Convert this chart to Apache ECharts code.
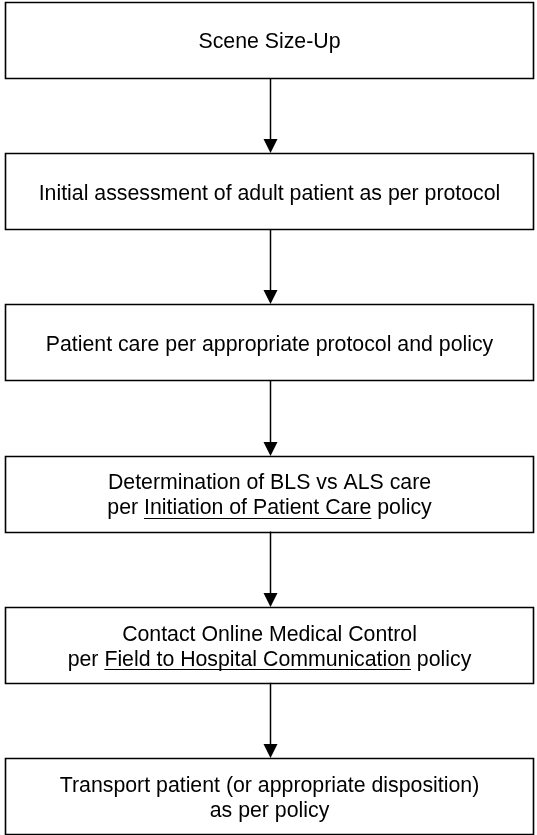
<!DOCTYPE html>
<html><head><meta charset="utf-8">
<script src="https://cdn.jsdelivr.net/npm/echarts@6/dist/echarts.min.js"></script>
<style>html,body{margin:0;padding:0;background:#fff}#chart{width:537px;height:835px}</style>
</head><body><div id="chart"></div>
<script>
// Flowchart steps (text in [brackets] is underlined in the original)
const steps = [
  'Scene Size-Up',
  'Initial assessment of adult patient as per protocol',
  'Patient care per appropriate protocol and policy',
  'Determination of BLS vs ALS care\nper [Initiation of Patient Care] policy',
  'Contact Online Medical Control\nper [Field to Hospital Communication] policy',
  'Transport patient (or appropriate disposition)\nas per policy'
];
const stepOrder = [0, 1, 2, 3, 4, 5];

const FONT_SIZE = 21.3;
const FONT_FAMILY = "'Liberation Sans', Arial, sans-serif";
const FONT = FONT_SIZE + 'px ' + FONT_FAMILY;
const LINE_H = 25;
const BOX_H = 76;
const TEXT_DY = 2.5;
const HEAD_W = 14, HEAD_H = 14;

const measureCtx = document.createElement('canvas').getContext('2d');
measureCtx.font = FONT;
function parseLine(line) {
  const segs = [];
  const re = /\[([^\]]*)\]|([^\[]+)/g;
  let m;
  while ((m = re.exec(line)) !== null) {
    if (m[1] !== undefined) segs.push({ t: m[1], u: true });
    else segs.push({ t: m[2], u: false });
  }
  return segs;
}

const chart = echarts.init(document.getElementById('chart'), null, { renderer: 'canvas' });

function renderItem(params, api) {
  const i = api.value(1);
  const left = api.coord([0, i]);
  const right = api.coord([1, i]);
  const cx = (left[0] + right[0]) / 2;
  const cy = left[1];
  const children = [];
  children.push({
    type: 'rect',
    shape: { x: left[0] + 0.5, y: Math.round(cy - BOX_H / 2) + 0.5, width: right[0] - left[0] - 1, height: BOX_H },
    style: { fill: '#fff', stroke: '#000', lineWidth: 1.6 }
  });
  const lines = steps[i].split('\n');
  const n = lines.length;
  lines.forEach(function (line, j) {
    const segs = parseLine(line);
    const total = segs.reduce((s, g) => s + measureCtx.measureText(g.t).width, 0);
    let x = cx - total / 2;
    const y = cy + TEXT_DY + (j - (n - 1) / 2) * LINE_H;
    segs.forEach(function (g) {
      const w = measureCtx.measureText(g.t).width;
      children.push({
        type: 'text',
        style: { text: g.t, x: x, y: y, font: FONT, fill: '#000', textAlign: 'left', textVerticalAlign: 'middle' }
      });
      if (g.u) {
        const uy = Math.round(y + FONT_SIZE * 0.45) + 0.5;
        children.push({
          type: 'line',
          shape: { x1: x, y1: uy, x2: x + w, y2: uy },
          style: { stroke: '#000', lineWidth: 1.2 }
        });
      }
      x += w;
    });
  });
  if (i > 0) {
    const prev = api.coord([0, i - 1]);
    const ax = Math.round(cx) + 0.5;
    const y0 = prev[1] + BOX_H / 2;
    const tip = Math.round(cy - BOX_H / 2);
    children.push({
      type: 'line',
      shape: { x1: ax, y1: y0, x2: ax, y2: tip - HEAD_H + 1 },
      style: { stroke: '#000', lineWidth: 1.5 }
    });
    children.push({
      type: 'polygon',
      shape: { points: [[ax - HEAD_W / 2, tip - HEAD_H], [ax + HEAD_W / 2, tip - HEAD_H], [ax, tip]] },
      style: { fill: '#000' }
    });
  }
  return { type: 'group', children: children };
}

chart.setOption({
  animation: false,
  backgroundColor: '#fff',
  grid: { left: 5, right: 3, top: 40, bottom: 39 },
  xAxis: { type: 'value', min: 0, max: 1, show: false },
  yAxis: { type: 'category', data: steps, inverse: true, boundaryGap: false, show: false },
  series: [{
    type: 'custom',
    renderItem: renderItem,
    data: stepOrder.map(i => [0, i]),
    clip: false
  }]
});
</script>
</body></html>
